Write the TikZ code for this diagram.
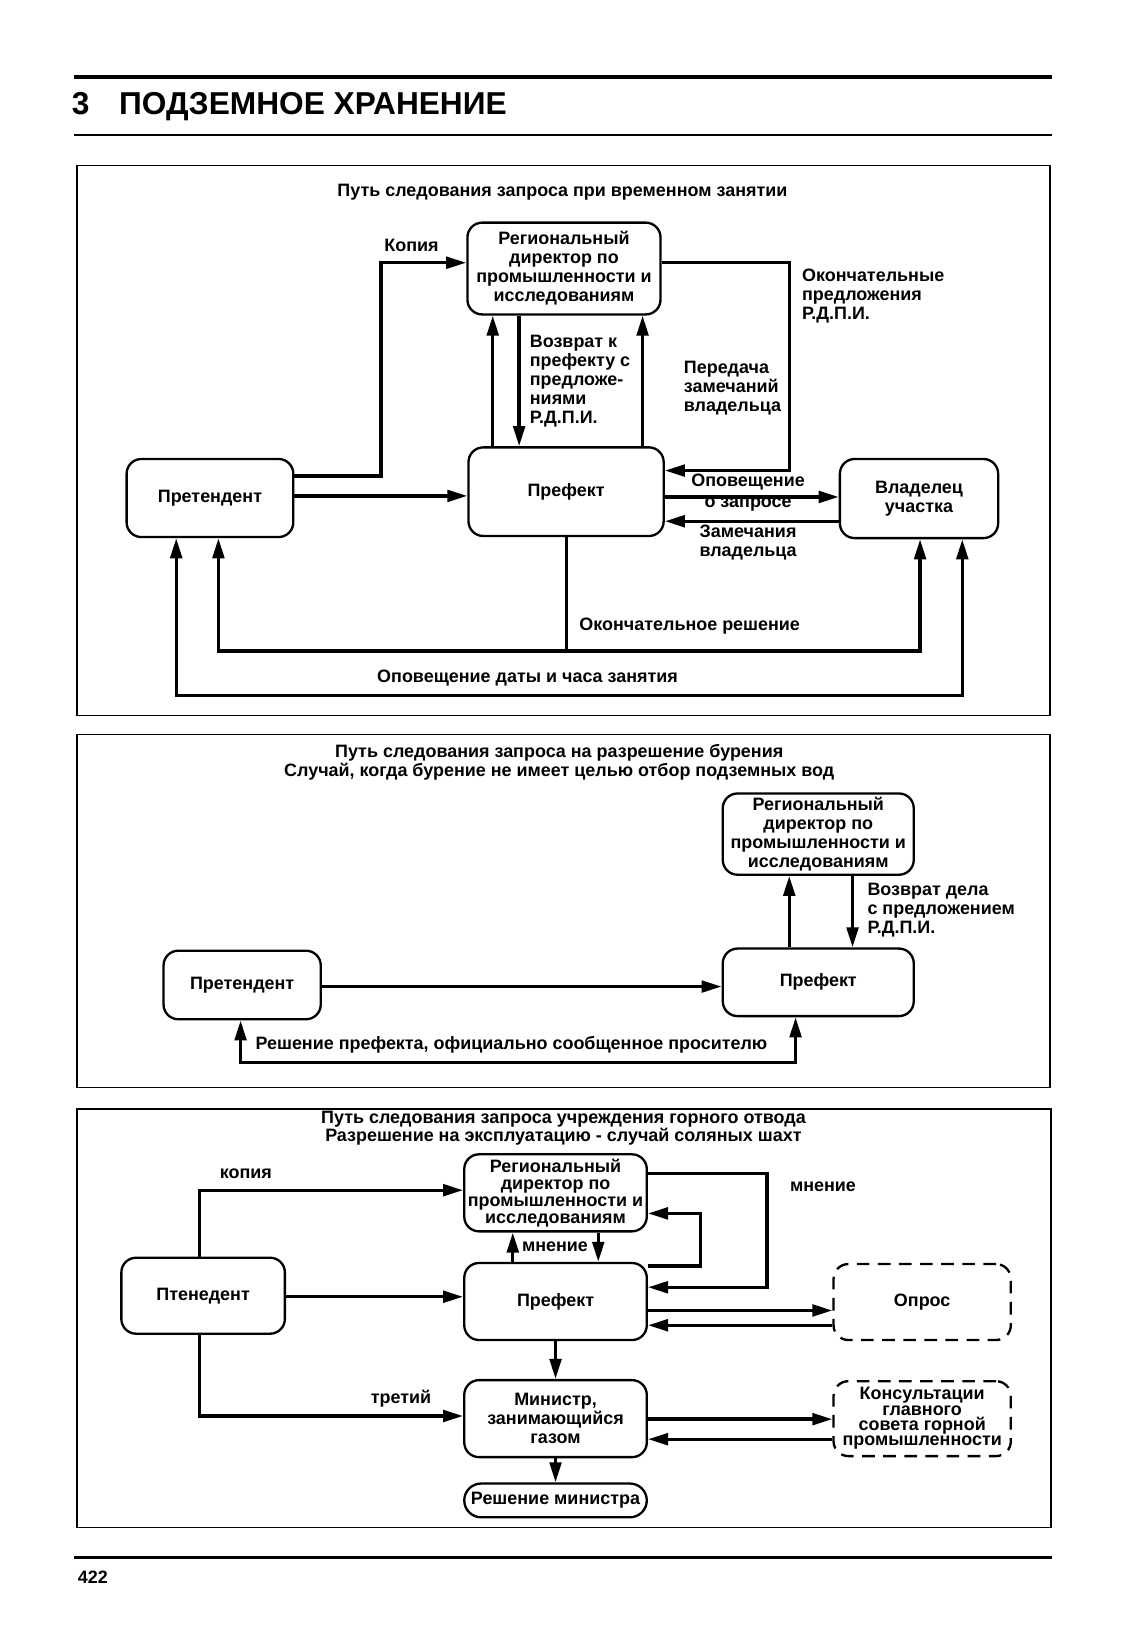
\documentclass[tikz,border=0pt]{standalone}
\usepackage{fontspec}
\setmainfont{Liberation Sans}
\usetikzlibrary{arrows.meta, positioning}
\tikzstyle{block} = [rectangle, 
			draw, 
			rounded corners = 14pt, 
			line width = 2.2pt,
			text centered, 
			align = center,
			inner sep = 0pt,
			font = \bfseries\fontsize{17}{18}\selectfont]
\tikzstyle{dblock} = [block, 
			dashed, 
			dash pattern = on 12pt off 8pt]
\tikzstyle{lbl} = [inner sep = 0pt, 
			align = left, 
			font = \bfseries\fontsize{17}{18}\selectfont]
\tikzstyle{arr} = [line width = 3.2pt, 
			-{Triangle[length=19pt, width=11pt]}]
\tikzstyle{darr} = [line width = 3.2pt, 
			{Triangle[length=19pt, width=11pt]}-{Triangle[length=19pt, width=11pt]}]
\tikzstyle{frame} = [line width = 1.2pt]

\begin{document}
\begin{tikzpicture}[x = 1pt, y = -1pt]
	\useasboundingbox (0,0) rectangle (1061.5,1560);
	% header
	\draw [line width = 3pt] (70,73) -- (997,73);
	\node [lbl, anchor = west] (title) at (68,101) {\fontsize{30}{32}\selectfont 3\hspace{28pt}ПОДЗЕМНОЕ ХРАНЕНИЕ};
	\draw [line width = 2.5pt] (70,128) -- (997,128);

	% first scheme
	\draw [frame] (73,157) rectangle (995,678);
	\node [lbl] (head1) at (533,182) {Путь следования запроса при временном занятии};
	\node [block, minimum width = 183pt, minimum height = 87pt] (rd1) at (534.5,254.5) {Региональный\\директор по\\промышленности и\\исследованиям};
	\node [block, minimum width = 185pt, minimum height = 84pt] (pref1) at (536.5,466) {Префект};
	\node [block, minimum width = 158pt, minimum height = 74pt] (pret1) at (199,472) {Претендент};
	\node [block, minimum width = 150pt, minimum height = 75pt] (own1) at (871,472.5) {Владелец\\участка};
	\coordinate (fin1) at (537,617);
	\draw [arr] (pret1.east |- 0,451) -| (361,249) -- (rd1.west |- 0,249);
	\draw [arr] (pret1.east |- 0,470) -- (pref1.west |- 0,470);
	\draw [arr] (pref1.north -| 467,0) -- (rd1.south -| 467,0);
	\draw [arr] (rd1.south -| 492,0) -- (pref1.north -| 492,0);
	\draw [arr] (pref1.north -| 609,0) -- (rd1.south -| 609,0);
	\draw [arr] (rd1.east |- 0,249) -| (748,446) -- (pref1.east |- 0,446);
	\draw [arr] (pref1.east |- 0,471) -- (own1.west |- 0,471);
	\draw [arr] (own1.west |- 0,494) -- (pref1.east |- 0,494);
	\draw [line width = 3.2pt] (pref1.south -| fin1) -- (fin1);
	\draw [darr] (pret1.south -| 207,0) |- (fin1) -| (own1.south -| 872,0);
	\draw [darr] (pret1.south -| 167,0) |- (912,659) -- (own1.south -| 912,0);
	\node [lbl] (l1) at (390,233) {Копия};
	\node [lbl, anchor = west] (l2) at (502,361) {Возврат к\\префекту с\\предложе-\\ниями\\Р.Д.П.И.};
	\node [lbl, anchor = west] (l3) at (648,368) {Передача\\замечаний\\владельца};
	\node [lbl, anchor = west] (l4) at (760,281) {Окончательные\\предложения\\Р.Д.П.И.};
	\node [lbl, align = center] (l5) at (709,467) {Оповещение\\[2pt]о запросе};
	\node [lbl, align = center] (l6) at (709,514) {Замечания\\владельца};
	\node [lbl, anchor = west] (l7) at (549,593) {Окончательное решение};
	\node [lbl] (l8) at (500,643) {Оповещение даты и часа занятия};

	% second scheme
	\draw [frame] (73,696) rectangle (995,1031);
	\node [lbl, align = center] (head2) at (530,722) {Путь следования запроса на разрешение бурения\\Случай, когда бурение не имеет целью отбор подземных вод};
	\node [block, minimum width = 181pt, minimum height = 77pt] (rd2) at (775.5,790.5) {Региональный\\директор по\\промышленности и\\исследованиям};
	\node [block, minimum width = 181pt, minimum height = 64pt] (pref2) at (775.5,931) {Префект};
	\node [block, minimum width = 149pt, minimum height = 65pt] (pret2) at (229.5,933.5) {Претендент};
	\draw [arr] (pret2.east |- 0,935) -- (pref2.west |- 0,935);
	\draw [arr] (pref2.north -| 748,0) -- (rd2.south -| 748,0);
	\draw [arr] (rd2.south -| 808,0) -- (pref2.north -| 808,0);
	\draw [darr] (pret2.south -| 228,0) |- (754,1007) -- (pref2.south -| 754,0);
	\node [lbl, anchor = west] (m1) at (822,863) {Возврат дела\\с предложением\\Р.Д.П.И.};
	\node [lbl, anchor = west] (m2) at (242,990) {Решение префекта, официально сообщенное просителю};

	% third scheme
	\draw [frame] (73,1051) rectangle (996,1448);
	\node [lbl, align = center, font = \bfseries\fontsize{17}{17}\selectfont] (head3) at (534,1069.5) {Путь следования запроса учреждения горного отвода\\Разрешение на эксплуатацию - случай соляных шахт};
	\node [block, minimum width = 173pt, minimum height = 73pt, font = \bfseries\fontsize{17}{16}\selectfont] (rd3) at (526.5,1130.5) {Региональный\\директор по\\промышленности и\\исследованиям};
	\node [block, minimum width = 173pt, minimum height = 73pt] (pref3) at (526.5,1233.5) {Префект};
	\node [block, minimum width = 155pt, minimum height = 72pt] (pten) at (192.5,1228) {Птенедент};
	\node [dblock, minimum width = 168pt, minimum height = 72pt] (opros) at (874,1234) {Опрос};
	\node [block, minimum width = 173pt, minimum height = 73pt] (min) at (526.5,1344.5) {Министр,\\занимающийся\\газом};
	\node [dblock, minimum width = 168pt, minimum height = 71pt, font = \bfseries\fontsize{17}{14.5}\selectfont] (cons) at (874,1344.5) {Консультации\\главного\\совета горной\\промышленности};
	\node [block, rounded corners = 16pt, minimum width = 173pt, minimum height = 32pt] (dec) at (526.5,1422) {Решение министра};
	\draw [arr] (pten.north -| 189,0) |- (rd3.west |- 0,1128);
	\draw [arr] (pten.east |- 0,1229) -- (pref3.west |- 0,1229);
	\draw [arr] (pten.south -| 189,0) |- (min.west |- 0,1342);
	\draw [arr] (pref3.north -| 486,0) -- (rd3.south -| 486,0);
	\draw [arr] (rd3.south -| 567,0) -- (pref3.north -| 567,0);
	\draw [arr] (rd3.east |- 0,1112) -| (727,1220) -- (pref3.east |- 0,1220);
	\draw [arr] (pref3.east |- 0,1200) -| (664,1150) -- (rd3.east |- 0,1150);
	\draw [arr] (pref3.east |- 0,1242) -- (opros.west |- 0,1242);
	\draw [arr] (opros.west |- 0,1256) -- (pref3.east |- 0,1256);
	\draw [arr] (pref3.south) -- (min.north);
	\draw [arr] (min.east |- 0,1345) -- (cons.west |- 0,1345);
	\draw [arr] (cons.west |- 0,1364) -- (min.east |- 0,1364);
	\draw [arr] (min.south) -- (dec.north);
	\node [lbl] (n1) at (233,1112) {копия};
	\node [lbl] (n2) at (380,1326) {третий};
	\node [lbl] (n3) at (526,1182) {мнение};
	\node [lbl] (n4) at (780,1125) {мнение};

	% footer
	\draw [line width = 3pt] (70,1476) -- (997,1476);
	\node [lbl] (page) at (88,1495) {422};
\end{tikzpicture}
\end{document}
